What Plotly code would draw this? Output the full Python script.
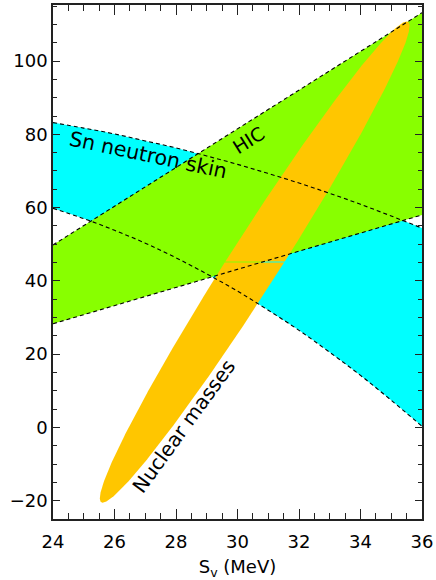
import numpy as np
import plotly.graph_objects as go

# ---- data ----
sv_grid = [24, 25, 26, 27, 28, 29, 30, 31, 32, 33, 34, 35, 36]
sn_upper = [83.2, 81.7, 80.1, 78.2, 76.3, 74.1, 71.8, 69.3, 66.7, 63.9, 60.9, 57.7, 54.4]
sn_lower = [59.8, 57.0, 53.8, 50.3, 46.3, 41.9, 37.2, 32.0, 26.5, 20.5, 14.2, 7.4, 0.3]
hic_x = [24, 36]
hic_upper = [49.8, 113.2]
hic_lower = [28.3, 58.0]
# nuclear-masses ellipse: centre, major half-axis vector, minor half-axis vector (data units)
ell_center = [30.56, 45.13]
ell_major = [4.99, 65.58]
ell_minor = [0.688, -3.676]
x_ticks = [24, 26, 28, 30, 32, 34, 36]
y_ticks = [-20, 0, 20, 40, 60, 80, 100]

CYAN = "rgb(0,255,255)"
GREEN = "rgb(136,255,0)"
ORANGE = "rgb(255,198,0)"
FONT = "DejaVu Sans"

fig = go.Figure()

# Sn neutron skin band
fig.add_trace(go.Scatter(x=sv_grid, y=sn_lower, mode="lines",
                         line=dict(width=0, shape="spline"), hoverinfo="skip"))
fig.add_trace(go.Scatter(x=sv_grid, y=sn_upper, mode="lines",
                         line=dict(width=0, shape="spline"),
                         fill="tonexty", fillcolor=CYAN, hoverinfo="skip"))
# HIC band
fig.add_trace(go.Scatter(x=hic_x, y=hic_lower, mode="lines",
                         line=dict(width=0), hoverinfo="skip"))
fig.add_trace(go.Scatter(x=hic_x, y=hic_upper, mode="lines",
                         line=dict(width=0), fill="tonexty", fillcolor=GREEN,
                         hoverinfo="skip"))

# Ellipse drawn as two halves with a thin seam at its centre
cx, cy = ell_center
ux, uy = ell_major
vx, vy = ell_minor
ry = np.hypot(uy, vy)
alpha = np.arctan2(vy, uy)
gap = 0.14
beta = np.arccos(gap / ry)
for base in (alpha, alpha + np.pi):
    t = np.linspace(base - beta, base + beta, 400)
    ex = cx + ux * np.cos(t) + vx * np.sin(t)
    ey = cy + uy * np.cos(t) + vy * np.sin(t)
    fig.add_trace(go.Scatter(x=ex, y=ey, mode="lines", line=dict(width=0),
                             fill="toself", fillcolor=ORANGE, hoverinfo="skip"))

# dashed boundaries
dash = dict(color="black", width=1.1, dash="4px,3px")
fig.add_trace(go.Scatter(x=sv_grid, y=sn_upper, mode="lines",
                         line=dict(dash, shape="spline")))
fig.add_trace(go.Scatter(x=sv_grid, y=sn_lower, mode="lines",
                         line=dict(dash, shape="spline")))
fig.add_trace(go.Scatter(x=hic_x, y=hic_upper, mode="lines", line=dash))
fig.add_trace(go.Scatter(x=hic_x, y=hic_lower, mode="lines", line=dash))

fig.add_annotation(x=27.1, y=74.4, text="Sn neutron skin", textangle=12,
                   showarrow=False, font=dict(family=FONT, size=20.5, color="black"))
fig.add_annotation(x=30.36, y=78.4, text="HIC", textangle=-32,
                   showarrow=False, font=dict(family=FONT, size=19, color="black"))
fig.add_annotation(x=28.25, y=0.5, text="Nuclear masses", textangle=-54,
                   showarrow=False, font=dict(family=FONT, size=20, color="black"))

axis_common = dict(showline=True, linecolor="#222", linewidth=1.5, mirror="ticks",
                   showgrid=False, zeroline=False, ticks="inside",
                   tickcolor="#222", tickwidth=1,
                   tickfont=dict(family=FONT, size=18, color="black"))

fig.update_xaxes(range=[24, 36], tickvals=x_ticks, ticklen=10,
                 ticklabelstandoff=6,
                 minor=dict(dtick=0.5, ticklen=6, ticks="inside", tickcolor="#222"),
                 title=dict(text="S<sub>v</sub> (MeV)", standoff=9,
                            font=dict(family=FONT, size=18, color="black")),
                 **axis_common)
fig.update_yaxes(range=[-25, 115.3], tickvals=y_ticks, ticklen=7,
                 minor=dict(dtick=5, ticklen=4, ticks="inside", tickcolor="#222"),
                 **axis_common)

fig.update_layout(width=436, height=580, showlegend=False,
                  margin=dict(l=53, r=14, t=5, b=61, autoexpand=False),
                  plot_bgcolor="white", paper_bgcolor="white")

fig.write_html("out.html", config={"displayModeBar": False},
               post_script="document.body.style.margin='0';document.body.style.padding='0';")
